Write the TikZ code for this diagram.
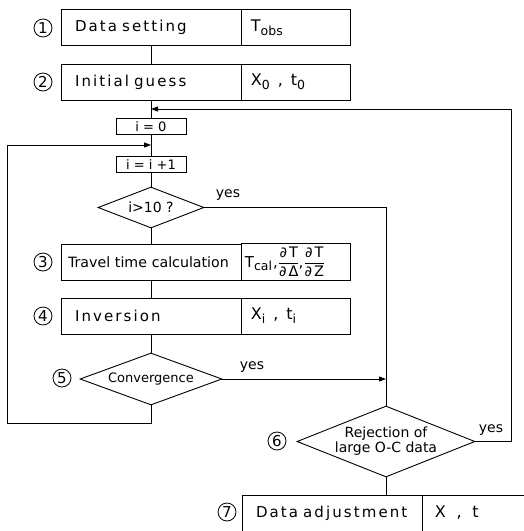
\documentclass[tikz,border=0pt]{standalone}
\usepackage{amsmath}
\usepackage{fontspec}
\setmainfont{DejaVu Sans}
\newfontfamily\spaced[LetterSpace=14]{DejaVu Sans}
\usetikzlibrary{shapes.geometric,arrows.meta}
\newcommand\mysub[1]{\raisebox{-0.45ex}{\fontsize{12.5}{12.5}\selectfont #1}}
\newcommand\myfrac[2]{$\genfrac{}{}{0.8pt}{0}{\mbox{\fontsize{14.5}{14.5}\selectfont #1}}{\mbox{\fontsize{14.5}{14.5}\selectfont #2}}$}
\begin{document}
\begin{tikzpicture}[x=1pt,y=-1pt,line width=0.9pt,
  lbox/.style={draw, rectangle, minimum height=36pt, inner xsep=14pt, text width=152pt, align=left, font=\spaced\fontsize{15}{17}\selectfont},
  vbox/.style={draw, rectangle, minimum height=36pt, inner xsep=9pt, text width=91pt, align=left, anchor=west, font=\fontsize{16}{18}\selectfont},
  ibox/.style={draw, rectangle, minimum width=70pt, minimum height=16pt, inner sep=0pt, font=\fontsize{13}{13}\selectfont},
  dia/.style={draw, diamond, inner sep=0pt, align=center, font=\fontsize{13}{15}\selectfont},
  num/.style={draw, circle, minimum size=18pt, inner sep=0pt, line width=0.8pt, font=\fontsize{15}{15}\selectfont},
  yeslbl/.style={inner sep=0pt, font=\fontsize{14}{14}\selectfont},
  arr/.style={-{Triangle[length=7pt,width=5pt]}}]
\useasboundingbox (0,0) rectangle (524,531);
% boxes
\node[lbox] (b1l) at (151,27.5) {Data setting};
\node[vbox] (b1v) at (b1l.east) {T\mysub{obs}};
\node[lbox] (b2l) at (151,82) {Initial guess};
\node[vbox] (b2v) at (b2l.east) {X\mysub{0} \,, \,t\mysub{0}};
\node[ibox] (i0) at (151,126.5) {i = 0};
\node[ibox] (ii) at (151,164.5) {i = i +1};
\node[dia, minimum width=106pt, minimum height=41pt, aspect=2.6, font=\fontsize{14}{14}\selectfont] (dA) at (151,207.5) {i>10 ?};
\node[lbox, font=\fontsize{14.2}{16}\selectfont, inner xsep=7pt, text width=166pt] (b3l) at (151,262) {Travel time calculation};
\node[vbox, inner xsep=3pt, text width=103pt, font=\fontsize{15}{16}\selectfont] (b3v) at (b3l.east) {T\mysub{cal}\hspace{1pt},\myfrac{∂\hspace{2pt}T}{∂\hspace{2pt}Δ}\hspace{-1pt},\myfrac{∂\hspace{2pt}T}{∂\hspace{2pt}Z}};
\node[lbox] (b4l) at (151,316) {Inversion};
\node[vbox] (b4v) at (b4l.east) {X\mysub{i} \,, \,t\mysub{i}};
\node[dia, minimum width=142pt, minimum height=52pt, aspect=2.73] (d5) at (151,379) {Convergence};
\node[dia, minimum width=178pt, minimum height=71pt, aspect=2.5, font=\fontsize{14}{15}\selectfont] (d6) at (386,441.5) {Rejection of\\large O-C data};
\begin{scope}
\clip (0,0) rectangle (524,531);
\node[lbox] (b7l) at (332,513) {Data adjustment};
\node[vbox, inner xsep=12pt, text width=96pt] (b7v) at (b7l.east) {X\ \ , \ t};
\end{scope}
% numbers
\node[num] (n1) at (43,28) {1};
\node[num] (n2) at (43,82) {2};
\node[num] (n3) at (43,262) {3};
\node[num] (n4) at (43,316) {4};
\node[num] (n5) at (62,378) {5};
\node[num] (n6) at (277,441) {6};
\node[num] (n7) at (227,512) {7};
% yes labels
\node[yeslbl] (y1) at (228,195) {yes};
\node[yeslbl] (y2) at (252,367) {yes};
\node[yeslbl] (y3) at (491,430) {yes};
% connectors
\coordinate (tr) at (511,109);
\coordinate (fb) at (151,109);
\coordinate (lp) at (151,145);
\coordinate (lb) at (151,423);
\coordinate (ll) at (7,423);
\coordinate (lt) at (7,145);
\draw (b1l.south) -- (b2l.north);
\draw (b2l.south) -- (i0.north);
\draw (i0.south) -- (ii.north);
\draw (ii.south) -- (dA.north);
\draw (dA.south) -- (b3l.north);
\draw (b3l.south) -- (b4l.north);
\draw (b4l.south) -- (d5.north);
\draw[arr] (d6.east) -| (tr) -- (fb);
\draw[arr] (d5.south) -- (lb) -- (ll) -- (lt) -- (lp);
\draw (dA.east) -| (d6.north);
\coordinate (j5) at (d6.north |- d5.east);
\draw[arr] (d5.east) -- (j5);
\draw (d6.south) -- (d6.south |- b7l.north);
\end{tikzpicture}
\end{document}
